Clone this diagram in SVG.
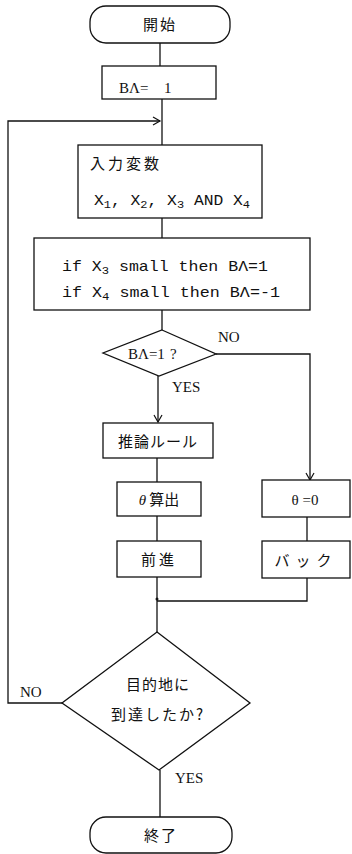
<svg xmlns="http://www.w3.org/2000/svg" width="352" height="854" viewBox="0 0 352 854">
<style>
.s{fill:#fff;stroke:#111;stroke-width:1.3}
.c{fill:none;stroke:#111;stroke-width:1.3}
.j{font-family:"Noto Sans CJK JP","Noto Sans CJK SC",sans-serif;font-size:15px;fill:#111}
.r{font-family:"Liberation Serif",serif;font-size:15px;fill:#111}
.m{font-family:"Liberation Mono",monospace;font-size:15px;fill:#111}
.sb{font-size:11px;baseline-shift:-3px}
</style>
<defs>
<marker id="a" markerWidth="10" markerHeight="10" refX="8" refY="5" orient="auto" markerUnits="userSpaceOnUse">
<polyline points="1,1 8,5 1,9" fill="none" stroke="#111" stroke-width="1.2"/>
</marker>
</defs>
<g id="connectors">
<line class="c" x1="160" y1="43" x2="160" y2="66"/>
<line class="c" x1="162" y1="99" x2="162" y2="145"/>
<polyline class="c" points="62,703 8,703 8,121 160,121" marker-end="url(#a)"/>
<line class="c" x1="162" y1="218" x2="162" y2="238"/>
<line class="c" x1="162" y1="310" x2="162" y2="330"/>
<polyline class="c" points="216,354 310,354 310,480" marker-end="url(#a)"/>
<line class="c" x1="158" y1="376" x2="158" y2="422" marker-end="url(#a)"/>
<line class="c" x1="157" y1="458" x2="157" y2="482"/>
<line class="c" x1="157" y1="516" x2="157" y2="541"/>
<line class="c" x1="307" y1="517" x2="307" y2="541"/>
<line class="c" x1="157" y1="577" x2="157" y2="632"/>
<polyline class="c" points="307,578 307,601 157,601"/>
<circle cx="157" cy="599" r="1.5" fill="#111"/>
<line class="c" x1="160" y1="770" x2="160" y2="817"/>
<text class="r" x="218" y="342">NO</text>
<text class="r" x="172" y="392">YES</text>
<text class="r" x="20" y="697">NO</text>
<text class="r" x="175" y="783">YES</text>
</g>
<g id="start">
<rect class="s" x="90" y="6" width="140" height="37" rx="16"/>
<text class="j" x="160" y="30" text-anchor="middle" letter-spacing="2">開始</text>
</g>
<g id="init">
<rect class="s" x="102" y="66" width="114" height="33"/>
<text class="r" x="119" y="93" font-size="16">BΛ=<tspan x="164">1</tspan></text>
</g>
<g id="input">
<rect class="s" x="78" y="145" width="184" height="73"/>
<text class="j" x="90" y="169" font-size="16" letter-spacing="3">入力変数</text>
<text class="m" x="94" y="205" textLength="156" lengthAdjust="spacingAndGlyphs">X<tspan class="sb">1</tspan>, X<tspan class="sb">2</tspan>, X<tspan class="sb">3</tspan> AND X<tspan class="sb">4</tspan></text>
</g>
<g id="rules">
<rect class="s" x="34" y="238" width="276" height="72"/>
<text class="m" x="62" y="271" textLength="206" lengthAdjust="spacingAndGlyphs">if X<tspan class="sb">3</tspan> small then BΛ=1</text>
<text class="m" x="62" y="297" textLength="218" lengthAdjust="spacingAndGlyphs">if X<tspan class="sb">4</tspan> small then BΛ=-1</text>
</g>
<g id="decision1">
<polygon class="s" points="162,330 216,354 159,376 103,353"/>
<text class="r" x="128" y="359" font-size="16">BΛ=1<tspan x="170">?</tspan></text>
</g>
<g id="inference">
<rect class="s" x="103" y="423" width="110" height="35"/>
<text class="j" x="158" y="447" text-anchor="middle" letter-spacing="1">推論ルール</text>
</g>
<g id="theta">
<rect class="s" x="117" y="482" width="84" height="34"/>
<text class="j" x="159" y="505" text-anchor="middle"><tspan font-family="Liberation Serif" font-style="italic">θ</tspan> 算出</text>
</g>
<g id="forward">
<rect class="s" x="117" y="541" width="84" height="36"/>
<text class="j" x="159" y="565" text-anchor="middle" letter-spacing="3">前進</text>
</g>
<g id="theta0">
<rect class="s" x="262" y="480" width="88" height="37"/>
<text class="r" x="305" y="505" text-anchor="middle" font-size="16">θ =0</text>
</g>
<g id="back">
<rect class="s" x="262" y="541" width="88" height="37"/>
<text class="j" x="306" y="566" text-anchor="middle" letter-spacing="6">バック</text>
</g>
<g id="decision2">
<polygon class="s" points="157,632 250,703 159,770 62,703"/>
<text class="j" x="158" y="690" text-anchor="middle" letter-spacing="1">目的地に</text>
<text class="j" x="158" y="720" text-anchor="middle" letter-spacing="2">到達したか?</text>
</g>
<g id="end">
<rect class="s" x="90" y="817" width="142" height="36" rx="16"/>
<text class="j" x="161" y="841" text-anchor="middle" letter-spacing="2">終了</text>
</g>
</svg>
